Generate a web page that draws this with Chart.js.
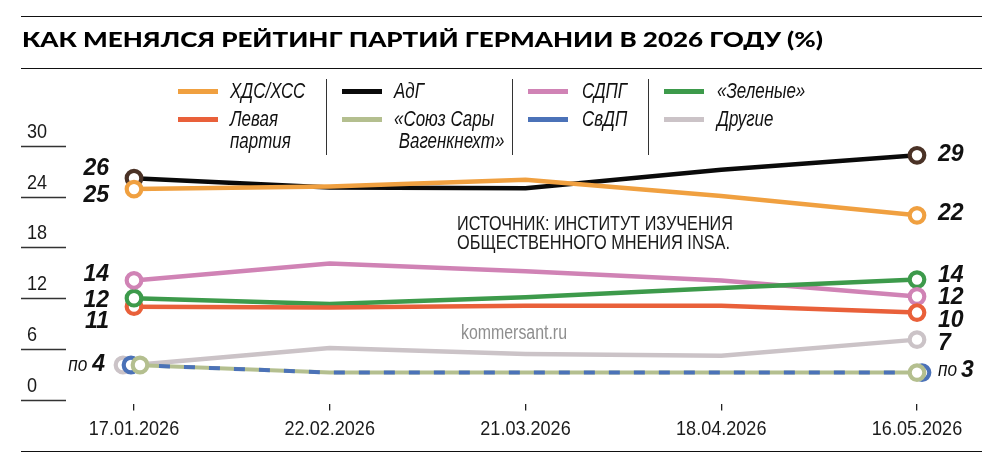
<!DOCTYPE html>
<html><head><meta charset="utf-8">
<script src="https://cdn.jsdelivr.net/npm/chart.js@4.4.1/dist/chart.umd.min.js"></script>
<style>
html,body{margin:0;padding:0;background:#fff;}
#wrap{position:relative;width:1000px;height:471px;overflow:hidden;font-family:"Liberation Sans",Arial,sans-serif;color:#1a1a1a;}
canvas{position:absolute;left:0;top:0;}
.rule{position:absolute;left:21px;width:961px;height:0;border-top:1.6px solid #111;}
#title{position:absolute;left:22px;top:27px;font-family:Lato,Inter,Roboto,sans-serif;font-weight:900;font-size:21px;line-height:24px;white-space:nowrap;color:#000;transform-origin:0 0;}
.lg{position:absolute;font-style:italic;font-size:22px;white-space:nowrap;line-height:22px;color:#111;transform:scaleX(0.77);transform-origin:0 0;}
.sw{position:absolute;height:5px;width:40px;}
.dv{position:absolute;top:79px;height:76px;width:0;border-left:1.5px solid #333;}
.src{position:absolute;left:457px;font-size:21px;line-height:18.5px;color:#1a1a1a;white-space:nowrap;transform-origin:0 0;}
#km{position:absolute;left:461px;top:322px;font-size:20px;line-height:20px;color:#8e8e8e;white-space:nowrap;transform-origin:0 0;}
</style>
</head>
<body>
<div id="wrap">
  <canvas id="c" width="1000" height="471"></canvas>
  <div class="rule" style="top:16px"></div>
  <div id="title">КАК МЕНЯЛСЯ РЕЙТИНГ ПАРТИЙ ГЕРМАНИИ В 2026 ГОДУ (%)</div>
  <div class="rule" style="top:68px"></div>
  <div class="rule" style="top:451px"></div>

  <div class="sw" style="left:178px;top:89px;background:#f0a040"></div>
  <div class="lg" style="left:230px;top:80px">ХДС/ХСС</div>
  <div class="sw" style="left:178px;top:117px;background:#e9603a"></div>
  <div class="lg" style="left:230px;top:108px">Левая<br>партия</div>
  <div class="dv" style="left:326px"></div>

  <div class="sw" style="left:342px;top:89px;background:#0a0a0a"></div>
  <div class="lg" style="left:394px;top:80px">АдГ</div>
  <div class="sw" style="left:342px;top:117px;background:#b4bf8f"></div>
  <div class="lg" style="left:394px;top:108px">«Союз Сары<br>&nbsp;Вагенкнехт»</div>
  <div class="dv" style="left:512px"></div>

  <div class="sw" style="left:528px;top:89px;background:#d083b5"></div>
  <div class="lg" style="left:582px;top:80px">СДПГ</div>
  <div class="sw" style="left:528px;top:117px;background:#4b72b8"></div>
  <div class="lg" style="left:582px;top:108px">СвДП</div>
  <div class="dv" style="left:648px"></div>

  <div class="sw" style="left:664px;top:89px;background:#3d9a4b"></div>
  <div class="lg" style="left:717px;top:80px">«Зеленые»</div>
  <div class="sw" style="left:664px;top:117px;background:#cbc3c7"></div>
  <div class="lg" style="left:717px;top:108px">Другие</div>

  <div class="src" id="src1" style="top:214px">ИСТОЧНИК: ИНСТИТУТ ИЗУЧЕНИЯ</div>
  <div class="src" id="src2" style="top:232.5px">ОБЩЕСТВЕННОГО МНЕНИЯ INSA.</div>
  <div id="km">kommersant.ru</div>
</div>
<script>
// ---- data ----
const dates  = ['17.01.2026', '22.02.2026', '21.03.2026', '18.04.2026', '16.05.2026'];
const cduCsu = [24.9, 25.2, 26.0, 24.1, 21.8];
const afd    = [26.2, 25.1, 25.0, 27.2, 28.9];
const spd    = [14.1, 16.1, 15.2, 14.1, 12.2];
const greens = [12.0, 11.3, 12.1, 13.2, 14.2];
const linke  = [11.0, 10.9, 11.1, 11.1, 10.3];
const bsw    = [4.1, 3.2, 3.2, 3.2, 3.2];
const fdp    = [4.1, 3.2, 3.2, 3.2, 3.2];
const others = [4.1, 6.1, 5.4, 5.2, 7.1];
const yTicks = [0, 6, 12, 18, 24, 30];

// ---- styles ----
const SANS = '"Liberation Sans", Arial, sans-serif';

function ds(label, data, color, extra) {
  return Object.assign({
    label, data, borderColor: color, borderWidth: 4.5, pointRadius: 0,
    pointHoverRadius: 0, tension: 0, fill: false,
    borderJoinStyle: 'round', borderCapStyle: 'butt'
  }, extra || {});
}
// dataset index 0 is drawn on top
const datasets = [
  ds('СвДП', fdp, '#4b72b8', {borderWidth: 4, borderDash: [11, 14]}),
  ds('БСВ', bsw, '#b4bf8f', {borderWidth: 4}),
  ds('Левая', linke, '#e9603a'),
  ds('Зеленые', greens, '#3d9a4b'),
  ds('СДПГ', spd, '#d083b5'),
  ds('ХДС/ХСС', cduCsu, '#f0a040'),
  ds('АдГ', afd, '#0a0a0a'),
  ds('Другие', others, '#cbc3c7')
];

// marker rings & value labels (style only)
const marks = {
  'СвДП':    {ring: '#4b72b8', s: {dx: -3, z: 5}, e: {dx: 5, z: 5}},
  'БСВ':     {ring: '#b4bf8f', s: {dx: 6, z: 6, dy: 0, lx: -4, pre: 'по'}, e: {dx: 0, z: 6, dy: -2, pre: 'по'}},
  'Другие':  {ring: '#cbc3c7', s: {dx: -11, z: 4}, e: {dx: 0, z: 4, dy: 4}},
  'Левая':   {ring: '#e9603a', s: {dx: 0, z: 1, dy: 15}, e: {dx: 0, z: 3, dy: 8}},
  'Зеленые': {ring: '#3d9a4b', s: {dx: 0, z: 2, dy: 2}, e: {dx: 0, z: 1, dy: -4}},
  'СДПГ':    {ring: '#d083b5', s: {dx: 0, z: 3, dy: -6}, e: {dx: 0, z: 2, dy: 1}},
  'ХДС/ХСС': {ring: '#f0a040', s: {dx: 0, z: 2, dy: 7}, e: {dx: 0, z: 1, dy: -2}},
  'АдГ':     {ring: '#4a3226', s: {dx: 0, z: 1, dy: -9}, e: {dx: 0, z: 1, dy: -1}}
};

// draw horizontally condensed text on canvas
function narrowText(ctx, txt, x, y, align, sx) {
  ctx.save();
  ctx.translate(x, y);
  ctx.scale(sx, 1);
  ctx.textAlign = align;
  ctx.fillText(txt, 0, 0);
  ctx.restore();
}

const axisTextPlugin = {
  id: 'axisText',
  afterDraw(chart) {
    const ctx = chart.ctx, y = chart.scales.y, x = chart.scales.x;
    ctx.save();
    ctx.font = '21px ' + SANS;
    ctx.fillStyle = '#1a1a1a';
    ctx.textBaseline = 'middle';
    ctx.strokeStyle = '#333';
    ctx.lineWidth = 1.4;
    yTicks.forEach(v => {
      const py = Math.round(y.getPixelForValue(v)) + 0.5;
      ctx.beginPath(); ctx.moveTo(21, py); ctx.lineTo(66, py); ctx.stroke();
      narrowText(ctx, String(v), 27, py - 14, 'left', 0.86);
    });
    dates.forEach((d, i) => {
      narrowText(ctx, d, x.getPixelForValue(i), 429, 'center', 0.86);
    });
    ctx.restore();
  }
};

const ringPlugin = {
  id: 'rings',
  afterDatasetsDraw(chart) {
    const ctx = chart.ctx;
    const items = [];
    chart.data.datasets.forEach((d, i) => {
      const m = marks[d.label]; if (!m) return;
      const meta = chart.getDatasetMeta(i);
      const first = meta.data[0], last = meta.data[meta.data.length - 1];
      items.push({x: first.x + m.s.dx, y: first.y, z: m.s.z, c: m.ring});
      items.push({x: last.x + m.e.dx, y: last.y, z: m.e.z, c: m.ring});
    });
    items.sort((a, b) => a.z - b.z);
    ctx.save();
    items.forEach(p => {
      ctx.beginPath();
      ctx.arc(p.x, p.y, 7.3, 0, Math.PI * 2);
      ctx.fillStyle = '#fff';
      ctx.fill();
      ctx.lineWidth = 4.2;
      ctx.strokeStyle = p.c;
      ctx.stroke();
    });
    ctx.restore();

    // value labels
    ctx.save();
    ctx.fillStyle = '#111';
    ctx.textBaseline = 'middle';
    const big = 'italic bold 23px ' + SANS;
    const small = 'italic 21px ' + SANS;
    chart.data.datasets.forEach((d, i) => {
      const m = marks[d.label];
      const meta = chart.getDatasetMeta(i);
      const n = d.data.length;
      [['s', 0], ['e', n - 1]].forEach(([k, idx]) => {
        const cfg = m[k];
        if (cfg.dy === undefined) return;
        const el = meta.data[idx];
        const txt = String(Math.round(d.data[idx]));
        const y = el.y + cfg.dy;
        if (k === 's') {
          const xr = el.x - 25 + (cfg.lx || 0);
          ctx.font = big; ctx.textAlign = 'right';
          ctx.fillText(txt, xr, y);
          if (cfg.pre) {
            const w = ctx.measureText(txt).width;
            ctx.font = small;
            narrowText(ctx, cfg.pre, xr - w - 5, y, 'right', 0.82);
          }
        } else {
          let xl = el.x + 21;
          if (cfg.pre) {
            ctx.font = small;
            narrowText(ctx, cfg.pre, xl, y, 'left', 0.82);
            xl += ctx.measureText(cfg.pre).width * 0.82 + 4;
          }
          ctx.font = big; ctx.textAlign = 'left';
          ctx.fillText(txt, xl, y);
        }
      });
    });
    ctx.restore();
  }
};

new Chart(document.getElementById('c'), {
  type: 'line',
  data: {labels: dates, datasets},
  options: {
    responsive: false,
    animation: false,
    events: [],
    layout: {padding: {left: 134, right: 83, top: 146, bottom: 0}},
    plugins: {legend: {display: false}, tooltip: {enabled: false}},
    scales: {
      y: {display: false, min: -0.56, max: 30},
      x: {
        type: 'category',
        offset: false,
        border: {display: false},
        grid: {drawOnChartArea: false, drawTicks: true, tickLength: 6, color: '#222', lineWidth: 1.3},
        ticks: {display: false},
        afterFit(s) { s.height = 66.6; }
      }
    }
  },
  plugins: [axisTextPlugin, ringPlugin]
});

// scale a few texts horizontally to their widths in the reference
function fit(id, w) {
  const el = document.getElementById(id);
  const cur = el.getBoundingClientRect().width;
  el.style.transform = 'scaleX(' + (w / cur).toFixed(4) + ')';
}
fit('title', 801);
fit('src1', 276);
fit('src2', 273);
fit('km', 106);
</script>
</body></html>
